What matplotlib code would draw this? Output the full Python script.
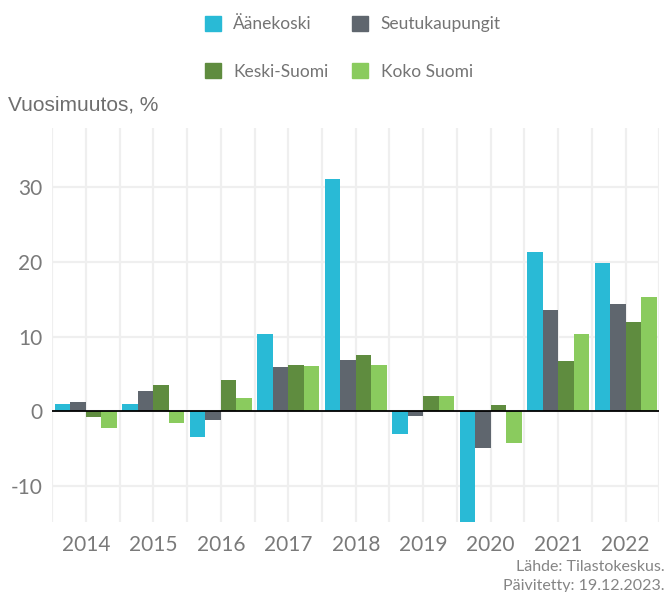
import matplotlib
matplotlib.use("Agg")
import matplotlib.pyplot as plt
import numpy as np
from matplotlib.patches import Patch

years = ["2014", "2015", "2016", "2017", "2018", "2019", "2020", "2021", "2022"]
aanekoski = [1.0, 1.0, -3.4, 10.4, 31.0, -3.0, -16.0, 21.3, 19.9]
seutukaupungit = [1.2, 2.7, -1.1, 6.0, 6.9, -0.6, -4.9, 13.6, 14.4]
keski_suomi = [-0.8, 3.5, 4.2, 6.2, 7.6, 2.1, 0.8, 6.8, 11.9]
koko_suomi = [-2.2, -1.5, 1.8, 6.1, 6.2, 2.1, -4.2, 10.3, 15.3]

series = [
    ("Äänekoski", aanekoski, "#29BAD6"),
    ("Seutukaupungit", seutukaupungit, "#5F666E"),
    ("Keski-Suomi", keski_suomi, "#5F8C3F"),
    ("Koko Suomi", koko_suomi, "#8ACB5E"),
]

plt.rcParams['font.family'] = ['Lato', 'DejaVu Sans']

fig = plt.figure(figsize=(6.68, 5.92), dpi=100)
ax = fig.add_axes([0.078, 0.118, 0.909, 0.666])

x = np.arange(len(years))
w = 0.23
for i, (name, vals, col) in enumerate(series):
    ax.bar(x + (i - 1.5) * w, vals, width=w, color=col, label=name, zorder=3)

ax.set_xlim(-0.5, len(years) - 0.5)
ax.set_ylim(-14.8, 37.9)
ax.set_yticks([-10, 0, 10, 20, 30])
ax.set_yticklabels(["-10", "0", "10", "20", "30"])
ax.set_xticks(x)
ax.set_xticklabels(years)
ax.set_xticks(np.arange(-0.5, len(years), 1.0), minor=True)
ax.grid(True, which='major', axis='both', color='#EFEFEF', linewidth=1.6, zorder=0)
ax.grid(True, which='minor', axis='x', color='#EFEFEF', linewidth=1.6, zorder=0)
ax.axhline(0, color='black', linewidth=1.3, zorder=4)
for s in ax.spines.values():
    s.set_visible(False)
ax.tick_params(axis='both', which='both', length=0, colors='#7A7A7A', labelsize=15)
ax.tick_params(axis='x', pad=9)
ax.tick_params(axis='y', pad=7)

fig.text(0.012, 0.822, "Vuosimuutos, %", fontsize=15, color='#6E6E6E',
         family=['Liberation Sans', 'DejaVu Sans'], va='center')

handles = [Patch(color=c) for _, _, c in series]
labels = [n for n, _, _ in series]
order = [0, 2, 1, 3]
leg = fig.legend([handles[i] for i in order], [labels[i] for i in order],
                 ncol=2, loc='upper left', bbox_to_anchor=(0.283, 1.0),
                 frameon=False, fontsize=12.5, handlelength=0.95, handleheight=0.95,
                 handletextpad=0.7, columnspacing=1.35, labelspacing=1.8)
for t in leg.get_texts():
    t.set_color('#747474')

fig.text(0.995, 0.042, "Lähde: Tilastokeskus.", ha='right', va='center',
         fontsize=11.5, color='#858585')
fig.text(0.995, 0.010, "Päivitetty: 19.12.2023.", ha='right', va='center',
         fontsize=11.5, color='#858585')

fig.savefig("out.png", dpi=100)
